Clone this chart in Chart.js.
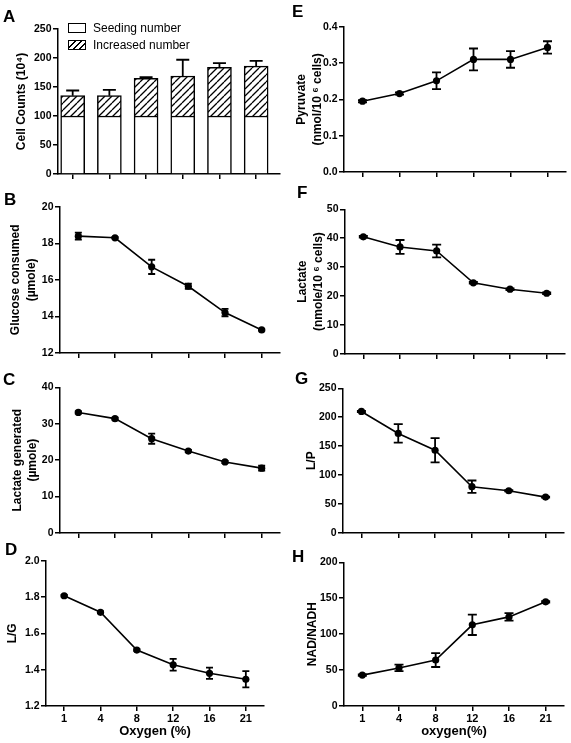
<!DOCTYPE html>
<html><head><meta charset="utf-8">
<script src="https://cdn.jsdelivr.net/npm/chart.js@4.4.1/dist/chart.umd.min.js"></script>
<style>
html,body{margin:0;padding:0;background:#fff;}
#fig{position:relative;width:571px;height:743px;overflow:hidden;font-family:"Liberation Sans",Arial,sans-serif;color:#000;}
#fig canvas{position:absolute;}
.lbl{position:absolute;font-weight:bold;font-size:17px;line-height:17px;}
.leg{position:absolute;font-size:12px;line-height:12px;white-space:nowrap;}
.sw{position:absolute;width:16px;height:8px;border:1.3px solid #000;background:#fff;}
.sw.h{background:repeating-linear-gradient(-45deg,#fff 0 3.2px,#000 3.2px 4.4px);}
</style></head><body><div id="fig"></div>
<script>
// ---------- data ----------
const oxygenLabels = ['1', '4', '8', '12', '16', '21'];
const barPositions = [1, 2, 3, 4, 5, 6];
const seedingNumber = [100, 100, 100, 100, 100, 100];
const increasedNumber = [35, 35, 65, 69, 84, 86];
const increasedErr = [9, 10, 2, 28, 7, 9];
const glucoseConsumed = [18.39, 18.30, 16.71, 15.65, 14.21, 13.26];
const glucoseErr = [0.19, 0.03, 0.39, 0.14, 0.20, 0.03];
const lactateGenerated = [33.1, 31.4, 25.9, 22.5, 19.5, 17.8];
const lactateGenErr = [0.3, 0.3, 1.4, 0.3, 0.3, 0.7];
const lgRatio = [1.807, 1.716, 1.508, 1.427, 1.380, 1.347];
const lgErr = [0.005, 0.005, 0.005, 0.032, 0.031, 0.045];
const pyruvate = [0.195, 0.216, 0.251, 0.310, 0.310, 0.343];
const pyruvateErr = [0.003, 0.003, 0.023, 0.030, 0.023, 0.017];
const lactateCells = [40.5, 37.0, 35.6, 24.6, 22.4, 21.0];
const lactateCellsErr = [0.3, 2.4, 2.2, 0.3, 0.3, 0.3];
const lpRatio = [210, 172, 143, 80, 73, 62];
const lpErr = [1, 16, 21, 10.7, 1, 1];
const nadRatio = [43, 53, 64, 113, 124, 145];
const nadErr = [1, 4.6, 9.7, 14.2, 5.3, 1];

// ---------- setup ----------
const FONT = '"Liberation Sans", Arial, sans-serif';
Chart.defaults.font.family = FONT;
Chart.defaults.color = '#000';
const fig = document.getElementById('fig');

const errorBarPlugin = {
  id: 'errorBars',
  afterDatasetsDraw(chart, args, opts) {
    if (!opts || !opts.errors) return;
    const y = chart.scales.y, x = chart.scales.x, ctx = chart.ctx;
    ctx.save();
    ctx.strokeStyle = '#000';
    ctx.lineWidth = opts.lineWidth || 1.8;
    opts.values.forEach((v, i) => {
      const px = x.getPixelForValue(opts.xs ? opts.xs[i] : i);
      const hi = y.getPixelForValue(v + opts.errors[i]);
      const lo = opts.oneSided ? y.getPixelForValue(v) : y.getPixelForValue(v - opts.errors[i]);
      const c = opts.cap || 4;
      ctx.beginPath();
      ctx.moveTo(px, lo); ctx.lineTo(px, hi);
      ctx.moveTo(px - c, hi); ctx.lineTo(px + c, hi);
      if (!opts.oneSided) { ctx.moveTo(px - c, lo); ctx.lineTo(px + c, lo); }
      ctx.stroke();
    });
    ctx.restore();
  }
};
Chart.register(errorBarPlugin);

function addText(cls, text, left, top) {
  const d = document.createElement('div');
  d.className = cls; d.textContent = text;
  d.style.left = left + 'px'; d.style.top = top + 'px';
  fig.appendChild(d);
}

function hatchPattern() {
  const s = 7, c = document.createElement('canvas');
  c.width = s; c.height = s;
  const g = c.getContext('2d');
  g.fillStyle = '#fff'; g.fillRect(0, 0, s, s);
  g.strokeStyle = '#000'; g.lineWidth = 1.3;
  g.beginPath();
  for (const k of [-s, 0, s]) { g.moveTo(k, s); g.lineTo(k + s, 0); }
  g.stroke();
  return g.createPattern(c, 'repeat');
}

// p: panelLeft, L, R, T, B (chart area in page px), xh, titleX, title, xTitle, yMin, yMax, yStep, dec
function makePanel(p) {
  const padRight = 6;
  const canvasTop = Math.round(p.T - 10);
  const padTop = p.T - canvasTop;
  const left = p.panelLeft;
  const width = Math.round(p.R + padRight - left);
  const height = Math.round(p.B + p.xh - canvasTop);
  const cv = document.createElement('canvas');
  cv.width = width; cv.height = height;
  cv.style.left = left + 'px'; cv.style.top = canvasTop + 'px';
  cv.style.width = width + 'px'; cv.style.height = height + 'px';
  fig.appendChild(cv);
  const lh = 15.6;
  const yScale = {
    min: p.yMin, max: p.yMax,
    afterFit: s => { s.width = p.L - left; },
    border: { display: true, color: '#000', width: 1.5 },
    grid: { display: true, drawOnChartArea: false, drawTicks: true, tickLength: 5, color: '#000', lineWidth: 1.5 },
    ticks: {
      stepSize: p.yStep, padding: 1.5,
      font: { size: 10.5, weight: 'bold' },
      callback: v => p.dec ? Number(v).toFixed(p.dec) : v
    },
    title: {
      display: true, text: p.title,
      font: { size: 12, weight: 'bold', lineHeight: 1.3 },
      padding: { top: p.titleX - left - lh / 2, bottom: 0 }
    }
  };
  const xScale = Object.assign({
    afterFit: s => { s.height = p.xh; },
    border: { display: true, color: '#000', width: 1.5 },
    grid: { display: true, drawOnChartArea: false, drawTicks: true, tickLength: 5, color: '#000', lineWidth: 1.5, offset: false },
    ticks: { display: !!p.xTitle, padding: 1, font: { size: 11, weight: 'bold' } },
    title: p.xTitle ? {
      display: true, text: p.xTitle,
      font: { size: 13, weight: 'bold', lineHeight: 1.2 },
      padding: { top: 0, bottom: 3.5 }
    } : { display: false }
  }, p.xExtra || {});
  const opts = {
    responsive: false, animation: false, devicePixelRatio: 1,
    layout: { padding: { top: padTop, right: padRight, bottom: 0, left: 0 } },
    plugins: { legend: { display: false }, tooltip: { enabled: false }, errorBars: p.err },
    scales: { x: xScale, y: Object.assign(yScale, p.yExtra || {}) }
  };
  return new Chart(cv, { type: p.type, data: p.data, options: opts });
}

function lineData(values) {
  return {
    labels: oxygenLabels,
    datasets: [{
      data: values, borderColor: '#000', borderWidth: 1.6, tension: 0,
      pointRadius: 3.6, pointBackgroundColor: '#000', pointBorderColor: '#000', pointBorderWidth: 0
    }]
  };
}
const catX = { type: 'category', offset: true };

// ---------- Panel A ----------
const totalCounts = seedingNumber.map((s, i) => s + increasedNumber[i]);
makePanel({
  type: 'bar', panelLeft: 0, L: 58, R: 280, T: 29, B: 173.5, xh: 8, titleX: 22,
  title: 'Cell Counts (10\u2074)', yMin: 0, yMax: 250, yStep: 50,
  data: {
    datasets: [
      { label: 'Seeding number', data: barPositions.map((x, i) => ({ x, y: seedingNumber[i] })),
        backgroundColor: '#fff', borderColor: '#000', borderWidth: 1.5, barThickness: 24 },
      { label: 'Increased number', data: barPositions.map((x, i) => ({ x, y: increasedNumber[i] })),
        backgroundColor: hatchPattern(), borderColor: '#000', borderWidth: 1.5, barThickness: 24 }
    ]
  },
  xExtra: {
    type: 'linear', min: 0.6, max: 6.65, offset: false, stacked: true,
    afterBuildTicks: s => { s.ticks = barPositions.map(v => ({ value: v })); }
  },
  yExtra: { stacked: true },
  err: { values: totalCounts, errors: increasedErr, xs: barPositions, oneSided: true, cap: 6.5, lineWidth: 1.8 }
});
addText('sw', '', 68, 23);
addText('sw h', '', 68, 40);
addText('leg', 'Seeding number', 93, 22);
addText('leg', 'Increased number', 93, 39);

// ---------- Panel B ----------
makePanel({
  type: 'line', panelLeft: 0, L: 60, R: 280, T: 206.7, B: 352.7, xh: 8, titleX: 16,
  title: ['Glucose consumed', '(\u00b5mole)'], yMin: 12, yMax: 20, yStep: 2,
  data: lineData(glucoseConsumed), xExtra: catX,
  err: { values: glucoseConsumed, errors: glucoseErr, cap: 3.5 }
});
// ---------- Panel C ----------
makePanel({
  type: 'line', panelLeft: 0, L: 60, R: 280, T: 387.3, B: 532.7, xh: 8, titleX: 17.5,
  title: ['Lactate generated', '(\u00b5mole)'], yMin: 0, yMax: 40, yStep: 10,
  data: lineData(lactateGenerated), xExtra: catX,
  err: { values: lactateGenerated, errors: lactateGenErr, cap: 3.5 }
});
// ---------- Panel D ----------
makePanel({
  type: 'line', panelLeft: 0, L: 46, R: 264, T: 560.7, B: 706, xh: 37, titleX: 13,
  title: 'L/G', yMin: 1.2, yMax: 2.0, yStep: 0.2, dec: 1, xTitle: 'Oxygen (%)',
  data: lineData(lgRatio), xExtra: catX,
  err: { values: lgRatio, errors: lgErr, cap: 3.5 }
});
// ---------- Panel E ----------
makePanel({
  type: 'line', panelLeft: 285, L: 344, R: 566, T: 26.7, B: 171.7, xh: 8, titleX: 302,
  title: ['Pyruvate', '(nmol/10 \u2076 cells)'], yMin: 0, yMax: 0.4, yStep: 0.1, dec: 1,
  data: lineData(pyruvate), xExtra: catX,
  err: { values: pyruvate, errors: pyruvateErr, cap: 4.5 }
});
// ---------- Panel F ----------
makePanel({
  type: 'line', panelLeft: 285, L: 345, R: 565, T: 209.3, B: 353.7, xh: 8, titleX: 303,
  title: ['Lactate', '(nmole/10 \u2076 cells)'], yMin: 0, yMax: 50, yStep: 10,
  data: lineData(lactateCells), xExtra: catX,
  err: { values: lactateCells, errors: lactateCellsErr, cap: 4.5 }
});
// ---------- Panel G ----------
makePanel({
  type: 'line', panelLeft: 285, L: 343, R: 564, T: 388.3, B: 532.7, xh: 8, titleX: 311.7,
  title: 'L/P', yMin: 0, yMax: 250, yStep: 50,
  data: lineData(lpRatio), xExtra: catX,
  err: { values: lpRatio, errors: lpErr, cap: 4.5 }
});
// ---------- Panel H ----------
makePanel({
  type: 'line', panelLeft: 285, L: 344, R: 564, T: 562.3, B: 706, xh: 37, titleX: 313,
  title: 'NAD/NADH', yMin: 0, yMax: 200, yStep: 50, xTitle: 'oxygen(%)',
  data: lineData(nadRatio), xExtra: catX,
  err: { values: nadRatio, errors: nadErr, cap: 4.5 }
});

// ---------- panel letters ----------
[['A', 3, 8], ['B', 4, 191], ['C', 3, 371], ['D', 5, 541],
 ['E', 292, 3], ['F', 297, 184], ['G', 295, 370], ['H', 292, 548]]
  .forEach(([t, x, y]) => addText('lbl', t, x, y));
</script>
</body></html>
